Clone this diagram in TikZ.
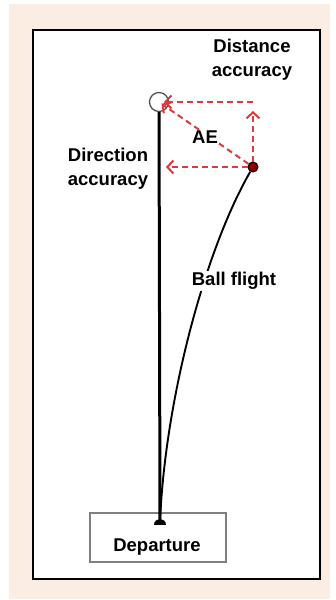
\documentclass[tikz,border=0pt]{standalone}
\usepackage{fontspec}
\setmainfont{Liberation Sans}
\usetikzlibrary{arrows.meta}
\definecolor{peach}{HTML}{FCEDE3}
\definecolor{aered}{HTML}{E0393B}
\begin{document}
\begin{tikzpicture}[x=1pt,y=-1pt,every node/.style={font=\bfseries\fontsize{18.5}{24}\selectfont,inner sep=1pt},
  err/.style={aered,line width=2pt,dash pattern=on 6pt off 4pt,-{Straight Barb[length=6pt,width=13pt,line width=2pt]}}]
\useasboundingbox (0,0) rectangle (336,600);
\fill[peach] (9,4) rectangle (330,599);
\filldraw[fill=white,draw=black,line width=2.2pt] (33,30) rectangle (320,579);
\draw[gray,line width=1.8pt] (90,513) rectangle (226,562);
\node[circle,draw=gray!60!black,line width=1.2pt,minimum size=19pt,inner sep=0pt] (hole) at (159,102) {};
\coordinate (tee) at (160,522); \coordinate (corner) at (253,102);
\coordinate (dir) at (166,167); \coordinate (dist) at (253,111);
\node[circle,fill=red!55!black,draw=black,line width=1pt,minimum size=10pt,inner sep=0pt] (ball) at (253,167) {};
\draw[line width=3pt] (hole) -- (tee);
\draw[line width=1.9pt] (tee) .. controls (165,400) and (205,250) .. (ball);
\fill (154,525) .. controls (154,517) and (166,517) .. (166,525) -- cycle;
\draw[err] (ball) -- (dir); \draw[err] (ball) -- (dist);
\draw[err,shorten >=5pt] (corner) -- (hole.center); \draw[err,shorten >=3pt] (ball) -- (hole.center);
\node[align=center] (distlbl) at (252,60) {Distance\\accuracy};
\node[align=center] (dirlbl) at (108,169) {Direction\\accuracy};
\node[fill=white] (aelbl) at (205,137) {AE};
\node[fill=white] (flightlbl) at (234,281) {Ball flight};
\node (deplbl) at (157,547) {Departure};
\end{tikzpicture}
\end{document}
